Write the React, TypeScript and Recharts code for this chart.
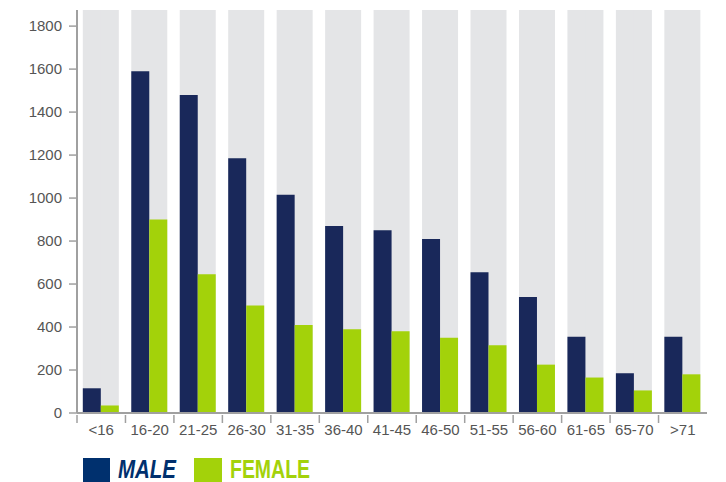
import React from "react";
import { BarChart, Bar, XAxis, YAxis } from "recharts";

const categories = ["<16", "16-20", "21-25", "26-30", "31-35", "36-40", "41-45", "46-50", "51-55", "56-60", "61-65", "65-70", ">71"];
const maleValues = [115, 1590, 1480, 1185, 1015, 870, 850, 810, 655, 540, 355, 185, 355];
const femaleValues = [35, 900, 645, 500, 410, 390, 380, 350, 315, 225, 165, 105, 180];
const yTicks = [0, 200, 400, 600, 800, 1000, 1200, 1400, 1600, 1800];

const data = categories.map((c, i) => ({ cat: c, male: maleValues[i], female: femaleValues[i] }));

const NAVY = "#19285a";
const GREEN = "#a3d20a";
const GRAY_BG = "#e4e5e7";
const AXIS = "#a0a0a0";
const FONT = "'Liberation Sans', Arial, sans-serif";

const PLOT_LEFT = 77;
const PLOT_RIGHT = 707;
const BAND = (PLOT_RIGHT - PLOT_LEFT) / categories.length;

const XTick = (props: any) => {
  const { x, y, payload } = props;
  const bx = x - BAND / 2;
  return (
    <g>
      <line x1={bx} y1={y - 6} x2={bx} y2={y + 2} stroke={AXIS} strokeWidth={1.5} />
      <text x={x} y={y + 3} dy="0.71em" textAnchor="middle" fill="#555" fontSize={15} fontFamily={FONT}>
        {payload.value}
      </text>
    </g>
  );
};

const MaleBg = (props: any) => {
  const { x, y, width, height } = props;
  return <rect x={x} y={y} width={width + 1} height={height} fill={GRAY_BG} />;
};

const FemaleBg = (props: any) => {
  const { x, y, width, height } = props;
  return <rect x={x} y={y} width={width} height={height} fill={GRAY_BG} />;
};

export default function App() {
  return (
    <div style={{ position: "absolute", left: 0, top: 0, width: 726, height: 482, background: "#fff", overflow: "hidden" }}>
      <BarChart
        width={726}
        height={482}
        data={data}
        margin={{ top: 10, right: 19, bottom: 39, left: 0 }}
        barCategoryGap="12%"
        barGap={0}
      >
        <XAxis
          dataKey="cat"
          height={30}
          tickLine={false}
          axisLine={{ stroke: AXIS, strokeWidth: 2 }}
          tick={<XTick />}
          interval={0}
        />
        <YAxis
          width={77}
          domain={[0, 1875]}
          ticks={yTicks}
          allowDataOverflow
          tickSize={8}
          tickMargin={7}
          tickLine={{ stroke: AXIS, strokeWidth: 1.5 }}
          axisLine={{ stroke: AXIS, strokeWidth: 2 }}
          tick={{ fill: "#555", fontSize: 15, fontFamily: FONT }}
        />
        <Bar dataKey="male" fill={NAVY} background={<MaleBg />} isAnimationActive={false} />
        <Bar dataKey="female" fill={GREEN} background={<FemaleBg />} isAnimationActive={false} />
      </BarChart>
      <svg width={726} height={482} style={{ position: "absolute", left: 0, top: 0, pointerEvents: "none" }}>
        <rect x={83} y={458} width={27} height={27} fill="#00306e" />
        <text
          x={118}
          y={478}
          fill="#00306e"
          fontSize={25}
          fontWeight="bold"
          fontStyle="italic"
          fontFamily={FONT}
          textLength={58}
          lengthAdjust="spacingAndGlyphs"
        >
          MALE
        </text>
        <rect x={194} y={458} width={28} height={27} fill={GREEN} />
        <text
          x={230}
          y={478}
          fill={GREEN}
          fontSize={25}
          fontWeight="bold"
          fontFamily={FONT}
          textLength={80}
          lengthAdjust="spacingAndGlyphs"
        >
          FEMALE
        </text>
      </svg>
    </div>
  );
}
